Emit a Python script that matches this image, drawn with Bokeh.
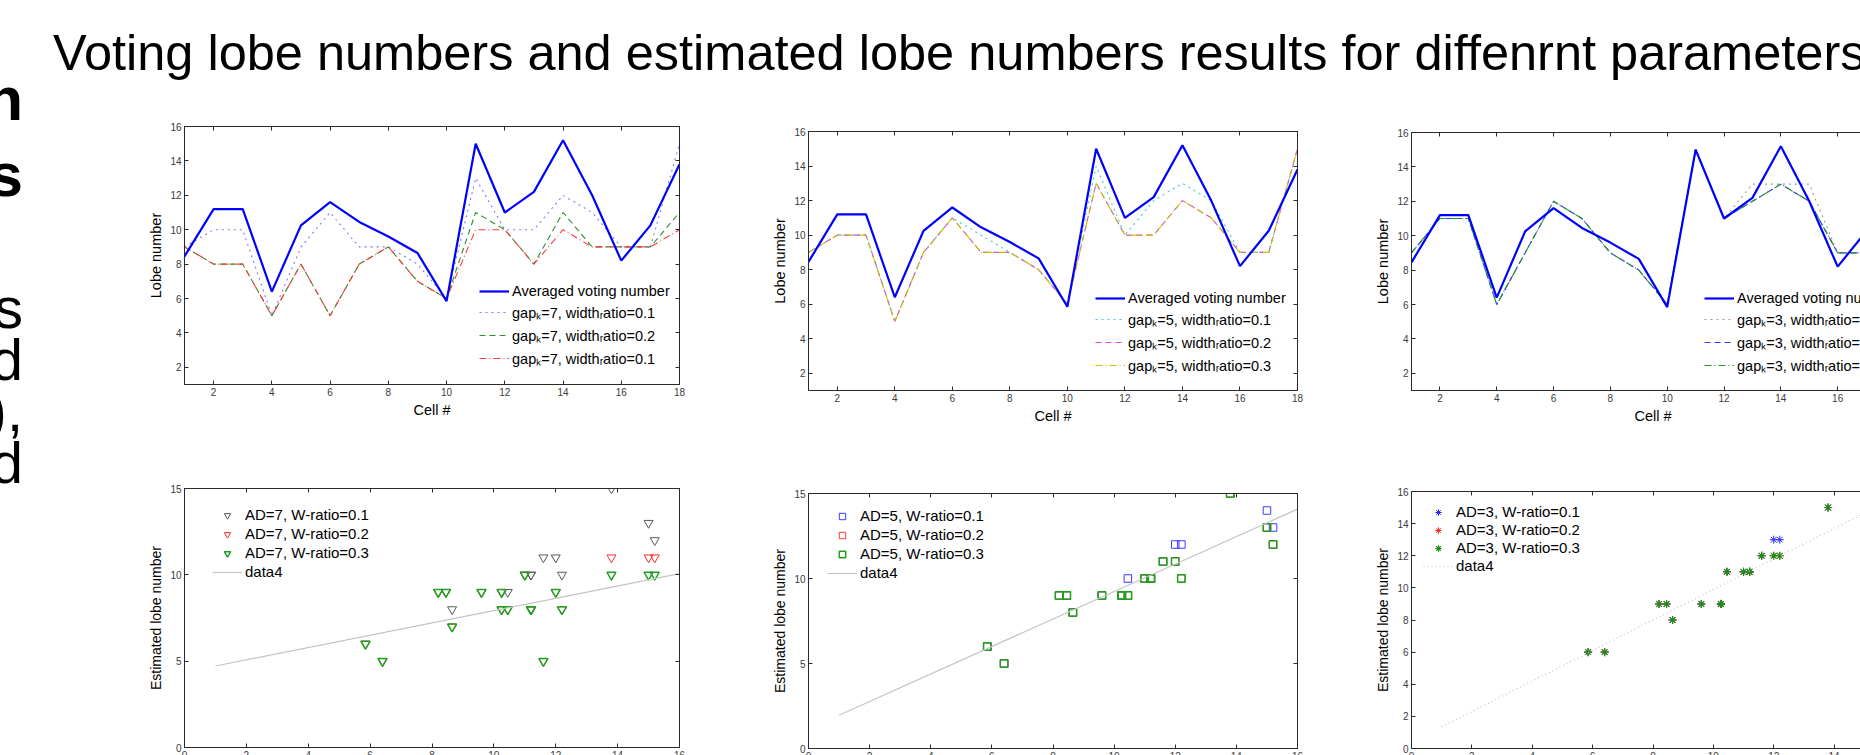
from bokeh.plotting import figure
from bokeh.models import LinearAxis, FixedTicker, Legend, LegendItem, Div, Range1d
from bokeh.layouts import row, column
from bokeh.embed import file_html
from bokeh.resources import INLINE

FONT = "Liberation Sans"

# ---------------- data ----------------
title_text = "Voting lobe numbers and estimated lobe numbers results for diffenrnt parameters"
side_bold = ["n", "s"]
side_regular = ["s", "d", "),", "d"]

cells = list(range(1, 19))
avg_vote = [8.45, 11.2, 11.2, 6.4, 10.25, 11.6, 10.45, 9.6, 8.65, 5.85,
            15.0, 11.0, 12.2, 15.2, 12.0, 8.2, 10.25, 13.8]

ad7_w01 = [9, 10, 10, 5, 9, 11, 9, 9, 8, 6, 13, 10, 10, 12, 11, 9, 9, 15]
ad7_w02 = [9, 8, 8, 5, 8, 5, 8, 9, 7, 6, 11, 10, 8, 11, 9, 9, 9, 11]
ad7_w03 = [9, 8, 8, 5, 8, 5, 8, 9, 7, 6, 10, 10, 8, 10, 9, 9, 9, 10]

ad5_w01 = [9, 10, 10, 5, 9, 11, 10, 9, 8, 6, 14, 10, 12, 13, 12, 9, 9, 15]
ad5_w02 = [9, 10, 10, 5, 9, 11, 9, 9, 8, 6, 13, 10, 10, 12, 11, 9, 9, 15]
ad5_w03 = [9, 10, 10, 5, 9, 11, 9, 9, 8, 6, 13, 10, 10, 12, 11, 9, 9, 15]

ad3_w01 = [9, 11, 11, 6, 9, 12, 11, 9, 8, 6, 15, 11, 13, 13, 13, 9, 9, 15]
ad3_w02 = [9, 11, 11, 6, 9, 12, 11, 9, 8, 6, 15, 11, 12, 13, 12, 9, 9, 15]
ad3_w03 = [9, 11, 11, 6, 9, 12, 11, 9, 8, 6, 15, 11, 12, 13, 12, 9, 9, 15]

fit7_x = [1, 16]
fit7_y = [4.72, 10.07]
fit5_x = [1, 16]
fit5_y = [1.96, 14.08]
fit3_x = [1, 16]
fit3_y = [1.35, 15.6]

top_labels_7 = ["Averaged voting number", "gap\u2096=7, width\u1d63atio=0.1",
                "gap\u2096=7, width\u1d63atio=0.2", "gap\u2096=7, width\u1d63atio=0.1"]
top_labels_5 = ["Averaged voting number", "gap\u2096=5, width\u1d63atio=0.1",
                "gap\u2096=5, width\u1d63atio=0.2", "gap\u2096=5, width\u1d63atio=0.3"]
top_labels_3 = ["Averaged voting number", "gap\u2096=3, width\u1d63atio=0.1",
                "gap\u2096=3, width\u1d63atio=0.2", "gap\u2096=3, width\u1d63atio=0.3"]
bot_labels_7 = ["AD=7, W-ratio=0.1", "AD=7, W-ratio=0.2", "AD=7, W-ratio=0.3", "data4"]
bot_labels_5 = ["AD=5, W-ratio=0.1", "AD=5, W-ratio=0.2", "AD=5, W-ratio=0.3", "data4"]
bot_labels_3 = ["AD=3, W-ratio=0.1", "AD=3, W-ratio=0.2", "AD=3, W-ratio=0.3", "data4"]

x_ticks_top = [2, 4, 6, 8, 10, 12, 14, 16, 18]
y_ticks_top = [2, 4, 6, 8, 10, 12, 14, 16]
x_ticks_bot = [0, 2, 4, 6, 8, 10, 12, 14, 16]
y_ticks_bot15 = [0, 5, 10, 15]
y_ticks_bot16 = [0, 2, 4, 6, 8, 10, 12, 14, 16]

AX = "#2a2a2a"


def base_fig(w, h, xr, yr, xticks, yticks, borders, xlabel=None, ylabel=None):
    ml, mr, mt, mb = borders
    p = figure(width=w, height=h, x_range=Range1d(*xr), y_range=Range1d(*yr),
               output_backend="svg", toolbar_location=None,
               min_border_left=ml, min_border_right=mr,
               min_border_top=mt, min_border_bottom=mb)
    p.grid.visible = False
    p.outline_line_color = AX
    p.outline_line_width = 1
    for ax, t in ((p.xaxis[0], xticks), (p.yaxis[0], yticks)):
        ax.ticker = FixedTicker(ticks=t)
        ax.major_tick_in = 4
        ax.major_tick_out = 0
        ax.minor_tick_line_color = None
        ax.axis_line_color = AX
        ax.major_tick_line_color = AX
        ax.major_label_text_font = FONT
        ax.major_label_text_font_size = "10px"
        ax.major_label_text_color = "#3a3a3a"
        ax.major_label_standoff = 3
        ax.axis_label_text_font = FONT
        ax.axis_label_text_font_style = "normal"
        ax.axis_label_text_font_size = "14.5px"
        ax.axis_label_text_color = "#000000"
        ax.axis_label_standoff = 3
    if xlabel:
        p.xaxis[0].axis_label = xlabel
    if ylabel:
        p.yaxis[0].axis_label = ylabel
    for loc, t in (("above", xticks), ("right", yticks)):
        a = LinearAxis(ticker=FixedTicker(ticks=t), major_tick_in=4, major_tick_out=0,
                       minor_tick_line_color=None, axis_line_color=AX,
                       major_tick_line_color=AX, major_label_text_font_size="1px",
                       major_label_text_color=None, major_label_standoff=0)
        p.add_layout(a, loc)
    return p


def top_plot(w, h, borders, series, styles, labels, legend_loc):
    p = base_fig(w, h, (1, 18), (1, 16), x_ticks_top, y_ticks_top, borders,
                 "Cell #", "Lobe number")
    rends = []
    for ys, (c, dash, lw) in zip(series, styles):
        rends.append(p.line(cells, ys, line_color=c, line_dash=dash, line_width=lw))
    r_avg = p.line(cells, avg_vote, line_color="#0000ff", line_width=2.2)
    items = [LegendItem(label=labels[0], renderers=[r_avg])]
    for lab, r in zip(labels[1:], rends):
        items.append(LegendItem(label=lab, renderers=[r]))
    leg = Legend(items=items, location=legend_loc, label_text_font=FONT,
                 label_text_font_size="14.5px", label_text_color="#000000",
                 glyph_width=30, glyph_height=16, label_height=16, spacing=3,
                 padding=0, margin=0, label_standoff=3,
                 border_line_color=None, background_fill_alpha=0)
    p.add_layout(leg)
    return p


def bottom_plot(w, h, borders, yr, yticks, series, marker, msize, widths, colors,
                fit_x, fit_y, fit_dash, labels, legend_loc, legend_pitch):
    p = base_fig(w, h, (0, 16), yr, x_ticks_bot, yticks, borders,
                 None, "Estimated lobe number")
    p.yaxis[0].axis_label_text_font_size = "14px"
    rends = []
    for ys, c, lw in zip(series, colors, widths):
        rends.append(p.scatter(avg_vote, ys, marker=marker, size=msize,
                               fill_color=None, line_color=c, line_width=lw))
    rf = p.line(fit_x, fit_y, line_color="#c4c4c4", line_width=1.2, line_dash=fit_dash)
    rends.append(rf)
    items = [LegendItem(label=l, renderers=[r]) for l, r in zip(labels, rends)]
    leg = Legend(items=items, location=legend_loc, label_text_font=FONT,
                 label_text_font_size="15px", label_text_color="#000000",
                 glyph_width=30, glyph_height=16, label_height=16,
                 spacing=legend_pitch - 17, padding=0, margin=0, label_standoff=3,
                 border_line_color=None, background_fill_alpha=0)
    p.add_layout(leg)
    return p


# ---------------- figures ----------------
p_tl = top_plot(695, 344, (137, 60, 26, 60), [ad7_w01, ad7_w02, ad7_w03],
                [("#7a7aff", "dotted", 1.1), ("#2a902a", "6 4", 1.1), ("#ff3a3a", "7 3 1 3", 1.1)],
                top_labels_7, (295, 16))
p_tm = top_plot(610, 350, (67, 51, 31, 60), [ad5_w01, ad5_w02, ad5_w03],
                [("#36cfcf", "dotted", 1.1), ("#d94ad9", "6 4", 1.1), ("#c8c400", "7 3 1 3", 1.1)],
                top_labels_5, (287, 15))
p_tr = top_plot(567, 350, (53, 20, 32, 60), [ad3_w01, ad3_w02, ad3_w03],
                [("#9a9a9a", "dotted", 1.1), ("#3a3aff", "6 4", 1.1), ("#1f9a1f", "7 3 1 3", 1.1)],
                top_labels_3, (293, 15))

p_bl = bottom_plot(695, 343, (139, 61, 44, 40), (0, 15), y_ticks_bot15,
                   [ad7_w01, ad7_w02, ad7_w03], "inverted_triangle", 9, [1.0, 1.0, 1.5],
                   ["#5a5a5a", "#ff2a2a", "#22a022"], fit7_x, fit7_y, "solid",
                   bot_labels_7, (28, 167), 19)
p_bm = bottom_plot(610, 338, (68, 53, 43, 40), (0, 15), y_ticks_bot15,
                   [ad5_w01, ad5_w02, ad5_w03], "square", 7.5, [1.0, 1.0, 1.5],
                   ["#3a3aff", "#ff3a3a", "#1fa01f"], fit5_x, fit5_y, "solid",
                   bot_labels_5, (19, 167), 19)
p_br = bottom_plot(567, 338, (61, 23, 41, 40), (0, 16), y_ticks_bot16,
                   [ad3_w01, ad3_w02, ad3_w03], "asterisk", 8, [1.0, 1.0, 1.1],
                   ["#2a2aff", "#ff2a2a", "#159015"], fit3_x, fit3_y, "1 3",
                   bot_labels_3, (12, 174), 18)

# ---------------- texts ----------------
title_html = (
    '<div style="position:relative;width:1815px;height:100px;">'
    '<span style="position:absolute;left:8px;top:28px;font-family:\'Liberation Sans\';'
    'font-size:50.5px;line-height:1;white-space:nowrap;color:#000;">%s</span></div>' % title_text
)
title_div = Div(text=title_html, width=1815, height=100, margin=0)

side_spans = []
for t, top in zip(side_bold, [68, 144]):
    side_spans.append(
        '<span style="position:absolute;right:22px;top:%dpx;font-family:\'Liberation Sans\';'
        'font-weight:bold;font-size:62px;line-height:1;white-space:nowrap;color:#000;">%s</span>'
        % (top, t))
for t, top in zip(side_regular, [286, 338, 389, 441]):
    side_spans.append(
        '<span style="position:absolute;right:22px;top:%dpx;font-family:\'Liberation Sans\';'
        'font-size:58px;line-height:0.75;white-space:nowrap;color:#000;">%s</span>'
        % (top, t))
side_html = ('<div style="position:relative;width:45px;height:755px;overflow:hidden;">'
             + "".join(side_spans) + '</div>')
side_div = Div(text=side_html, width=45, height=755, margin=0)

col1 = column(p_tl, p_bl)
col2 = column(p_tm, p_bm)
col3 = column(p_tr, p_br)
plots = row(col1, col2, col3)
main = column(title_div, plots)
root = row(side_div, main, width=1860, height=755, styles={"overflow": "hidden"})

open("out.html", "w").write(file_html(root, INLINE))
